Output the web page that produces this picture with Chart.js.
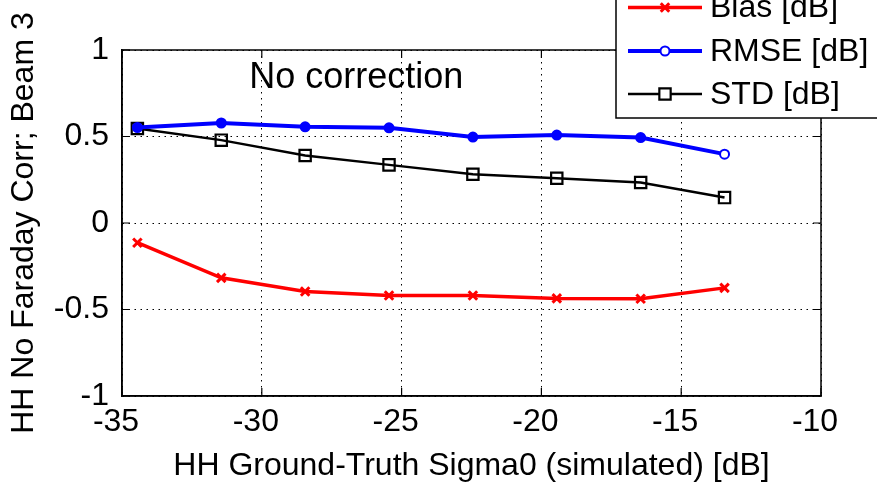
<!DOCTYPE html>
<html>
<head>
<meta charset="utf-8">
<script src="https://cdn.jsdelivr.net/npm/chart.js@4/dist/chart.umd.min.js"></script>
<style>
  html, body { margin: 0; padding: 0; background: #fff; }
  #wrap { width: 877px; height: 485px; position: relative; }
</style>
</head>
<body>
<div id="wrap"><canvas id="c" width="877" height="485"></canvas></div>
<script>
const sigma0 = [-34.45, -31.45, -28.45, -25.45, -22.45, -19.45, -16.45, -13.45];
const biasDB = [-0.114, -0.317, -0.396, -0.419, -0.419, -0.436, -0.438, -0.375];
const rmseDB = [0.552, 0.578, 0.556, 0.550, 0.497, 0.508, 0.494, 0.398];
const stdDB  = [0.546, 0.479, 0.390, 0.336, 0.282, 0.259, 0.234, 0.147];
const xTicks = [-35, -30, -25, -20, -15, -10];
const yTicks = [-1, -0.5, 0, 0.5, 1];
const seriesNames = ['Bias [dB]', 'RMSE [dB]', 'STD [dB]'];
const annotationText = 'No correction';
const xTitle = 'HH Ground-Truth Sigma0 (simulated) [dB]';
const yTitle = 'HH No Faraday Corr; Beam 3';

const FONT = '"Liberation Sans", Arial, Helvetica, sans-serif';
const FS = 32;

const toPts = ys => sigma0.map((x, i) => ({x: x, y: ys[i]}));

const framePlugin = {
  id: 'frame',
  afterDatasetsDraw(chart) {
    const {ctx, chartArea: a, scales} = chart;
    ctx.save();
    ctx.strokeStyle = '#000';
    ctx.lineWidth = 1.5;
    ctx.strokeRect(a.left, a.top, a.right - a.left, a.bottom - a.top);
    const L = 8;
    ctx.lineWidth = 1.2;
    ctx.beginPath();
    xTicks.forEach(v => {
      const p = scales.x.getPixelForValue(v);
      ctx.moveTo(p, a.bottom); ctx.lineTo(p, a.bottom - L);
      ctx.moveTo(p, a.top); ctx.lineTo(p, a.top + L);
    });
    yTicks.forEach(v => {
      const p = scales.y.getPixelForValue(v);
      ctx.moveTo(a.left, p); ctx.lineTo(a.left + L, p);
      ctx.moveTo(a.right, p); ctx.lineTo(a.right - L, p);
    });
    ctx.stroke();
    ctx.fillStyle = '#000';
    ctx.font = '36px ' + FONT;
    ctx.textAlign = 'left';
    ctx.textBaseline = 'middle';
    ctx.fillText(annotationText, scales.x.getPixelForValue(-30.45), scales.y.getPixelForValue(0.84));
    ctx.restore();
  },
  afterDraw(chart) {
    const {ctx} = chart;
    ctx.save();
    ctx.fillStyle = '#fff';
    ctx.fillRect(616, -2, 300, 120);
    ctx.strokeStyle = '#000';
    ctx.lineWidth = 1.5;
    ctx.strokeRect(616, -2, 300, 120);
    const rows = [7.5, 51, 94];
    chart.data.datasets.forEach((ds, i) => {
      const y = rows[i];
      ctx.strokeStyle = ds.borderColor;
      ctx.lineWidth = ds.borderWidth;
      ctx.beginPath(); ctx.moveTo(628, y); ctx.lineTo(702, y); ctx.stroke();
      ctx.lineWidth = ds.pointBorderWidth;
      ctx.fillStyle = '#fff';
      ctx.strokeStyle = ds.borderColor;
      ctx.beginPath();
      if (ds.pointStyle === 'circle') { ctx.arc(665, y, ds.pointRadius, 0, Math.PI * 2); ctx.fill(); ctx.stroke(); }
      else if (ds.pointStyle === 'rect') { const s = ds.pointRadius * Math.SQRT1_2; ctx.rect(665 - s, y - s, 2 * s, 2 * s); ctx.fill(); ctx.stroke(); }
      else { const s = ds.pointRadius * Math.SQRT1_2; ctx.moveTo(665 - s, y - s); ctx.lineTo(665 + s, y + s); ctx.moveTo(665 + s, y - s); ctx.lineTo(665 - s, y + s); ctx.stroke(); }
      ctx.fillStyle = '#000';
      ctx.font = FS + 'px ' + FONT;
      ctx.textAlign = 'left';
      ctx.textBaseline = 'middle';
      ctx.fillText(ds.label, 710, y + 1);
    });
    ctx.restore();
  }
};

new Chart(document.getElementById('c'), {
  type: 'line',
  data: {
    datasets: [
      {
        label: seriesNames[0], data: toPts(biasDB),
        borderColor: '#ff0000', backgroundColor: '#ff0000', borderWidth: 3.5,
        pointStyle: 'crossRot', pointRadius: 6, pointBorderWidth: 3,
        pointBorderColor: '#ff0000', tension: 0
      },
      {
        label: seriesNames[1], data: toPts(rmseDB),
        borderColor: '#0000ff', backgroundColor: '#0000ff', borderWidth: 4,
        pointStyle: 'circle', pointRadius: 4.5, pointBorderWidth: 2,
        pointBorderColor: '#0000ff',
        pointBackgroundColor: c => c.dataIndex === rmseDB.length - 1 ? '#ffffff' : '#0000ff',
        tension: 0
      },
      {
        label: seriesNames[2], data: toPts(stdDB),
        borderColor: '#000000', backgroundColor: 'rgba(0,0,0,0)', borderWidth: 2.5,
        pointStyle: 'rect', pointRadius: 8, pointBorderWidth: 2.2,
        pointBorderColor: '#000000', pointBackgroundColor: 'rgba(0,0,0,0)',
        tension: 0
      }
    ]
  },
  options: {
    responsive: false,
    animation: false,
    devicePixelRatio: 1,
    layout: { padding: { top: 50, right: 56, left: 0, bottom: 0 } },
    plugins: { legend: { display: false }, tooltip: { enabled: false } },
    scales: {
      x: {
        type: 'linear', min: -35, max: -10,
        afterBuildTicks: s => { s.ticks = xTicks.map(v => ({value: v})); },
        afterFit: s => { s.height = 89; },
        grid: { color: '#000', lineWidth: 1, drawTicks: false },
        border: { display: true, color: '#000', width: 1.5, dash: [1.5, 4.5] },
        ticks: { color: '#000', font: { family: FONT, size: FS }, padding: 7, labelOffset: -6, maxRotation: 0,
                 callback: v => String(v) },
        title: { display: true, text: xTitle, color: '#000', font: { family: FONT, size: FS }, padding: { top: 0, bottom: 0 } }
      },
      y: {
        type: 'linear', min: -1, max: 1,
        afterBuildTicks: s => { s.ticks = yTicks.map(v => ({value: v})); },
        afterFit: s => { s.width = 122; },
        grid: { color: '#000', lineWidth: 1, drawTicks: false },
        border: { display: true, color: '#000', width: 1.5, dash: [1.5, 4.5] },
        ticks: { color: '#000', font: { family: FONT, size: FS }, padding: 13, callback: v => String(v) },
        title: { display: true, text: yTitle, color: '#000', font: { family: FONT, size: FS }, padding: { top: 5, bottom: 0 } }
      }
    }
  },
  plugins: [framePlugin]
});
</script>
</body>
</html>
